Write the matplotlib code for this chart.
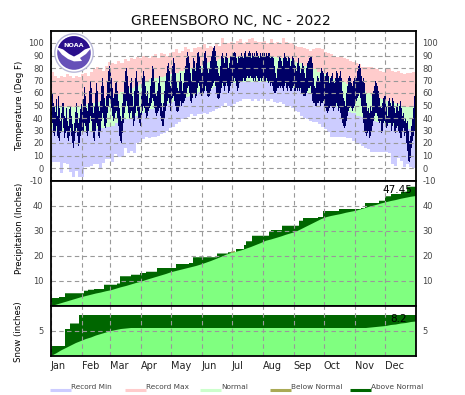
import numpy as np
import matplotlib
matplotlib.use("Agg")
import matplotlib.pyplot as plt
from matplotlib.patches import Circle, Polygon

plt.rcParams['axes.unicode_minus'] = False

W, H = 465, 395

months = ['Jan', 'Feb', 'Mar', 'Apr', 'May', 'Jun', 'Jul', 'Aug', 'Sep', 'Oct', 'Nov', 'Dec']
month_start = [0, 31, 59, 90, 120, 151, 181, 212, 243, 273, 304, 334]

# daily high / low, one line per month
temp_hi = [62,60,52,50,45,55,42,58,48,38,44,52,52,42,40,48,38,34,47,50,42,35,30,36,45,52,44,36,40,47,51,
           45,55,65,58,48,46,52,62,70,64,52,44,50,60,68,62,50,46,54,66,72,66,56,50,58,70,78,82,
           78,72,64,56,60,68,70,62,54,48,42,38,52,60,70,78,80,74,66,60,68,72,58,50,62,72,78,70,62,50,44,
           60,72,78,74,66,58,62,52,56,66,72,82,80,70,60,58,62,68,74,66,52,46,52,62,70,76,82,84,78,66,
           72,82,88,84,76,70,64,62,70,76,70,62,68,76,82,88,93,90,84,76,70,80,88,86,78,84,92,93,90,82,76,
           78,86,92,94,88,80,76,80,86,90,94,96,98,94,86,82,76,74,82,90,92,88,84,90,92,88,80,84,90,90,
           90,92,93,92,88,84,90,88,90,92,90,88,92,94,90,90,92,94,92,88,92,90,92,90,94,92,90,88,92,90,92,
           92,92,90,92,90,92,92,88,90,90,88,82,76,72,80,86,90,88,86,82,88,92,90,88,86,90,88,82,86,90,88,
           86,82,78,84,88,82,76,80,84,82,76,72,80,84,86,88,90,90,84,72,66,64,70,74,72,70,76,80,78,76,
           72,74,76,77,74,68,72,74,76,70,68,72,78,76,72,74,78,72,62,56,54,50,60,66,72,74,72,68,66,70,72,
           74,72,78,82,83,80,74,70,72,68,60,52,46,48,44,50,46,60,62,66,70,68,66,62,56,50,48,52,56,58,
           58,50,42,54,56,52,50,56,54,48,44,50,52,46,50,54,48,42,44,38,40,36,38,30,22,26,34,40,48,58,67]
temp_lo = [40,36,28,26,30,34,26,24,22,28,30,40,32,24,28,30,24,22,26,32,26,20,16,22,28,32,26,18,20,26,30,
           28,30,36,34,28,26,30,36,42,38,30,24,22,30,36,34,26,24,30,38,44,40,34,32,36,44,50,56,
           52,48,42,38,40,44,46,40,34,26,22,20,28,36,44,50,54,50,44,40,44,46,40,34,38,44,50,46,40,36,34,
           40,46,50,48,44,40,42,46,48,50,52,56,54,48,44,42,44,46,48,42,38,34,34,40,46,50,54,56,52,46,
           52,56,58,54,50,46,45,46,50,54,50,52,52,54,56,60,64,66,60,54,52,56,60,60,56,58,64,68,66,60,58,
           58,60,62,66,62,58,57,58,62,64,66,68,70,66,60,56,55,56,60,64,68,66,62,66,68,66,60,62,66,68,
           68,70,72,70,66,62,64,68,70,70,70,72,70,70,72,74,72,72,74,72,72,70,72,70,74,72,70,70,72,70,72,
           72,70,70,72,70,68,70,66,68,66,62,60,60,62,64,64,66,64,66,64,62,66,68,64,62,66,64,62,62,64,66,
           62,62,64,62,64,62,64,60,60,58,58,58,60,62,64,64,66,60,54,52,52,50,50,52,52,54,50,52,52,54,
           50,48,46,44,46,48,50,50,48,46,48,50,52,50,46,48,44,40,36,34,32,34,38,42,46,48,50,48,46,48,50,
           52,54,56,58,60,56,50,44,36,30,28,26,28,30,24,26,30,34,38,42,44,44,42,38,36,38,28,30,36,38,
           34,32,34,36,36,36,30,34,36,30,28,32,34,30,28,24,24,30,32,26,28,20,14,6,5,8,16,22,26,30,40]

# records, roughly every 3 days
rec_hi = [77,74,72,74,73,75,74,72,74,73,
          75,76,74,77,79,81,79,78,82,
          85,84,83,86,84,87,86,88,87,89,
          88,90,89,88,90,91,88,92,91,90,
          92,93,95,92,94,97,95,93,96,97,
          97,99,96,98,97,100,98,104,99,100,
          101,100,102,103,100,101,103,104,102,101,
          101,102,100,103,100,101,99,104,101,100,
          100,98,97,97,96,95,94,95,96,96,
          95,93,92,91,90,89,89,88,87,86,
          85,84,83,81,81,81,81,80,79,78,
          77,79,79,78,77,78,76,75,76,76,77]
rec_lo = [5,5,5,-4,4,3,-3,-7,-2,-7,
          -7,1,1,2,3,3,0,4,7,
          7,5,11,9,9,16,12,14,12,20,
          21,23,25,24,25,25,26,27,28,30,
          32,33,35,37,39,40,41,43,42,43,
          43,44,43,45,46,47,48,50,52,50,
          49,51,53,54,55,55,55,54,55,54,
          55,55,54,55,53,52,53,51,50,50,
          48,46,45,42,40,39,38,37,37,35,
          33,31,29,25,25,25,25,25,24,24,
          22,20,19,18,16,15,13,13,13,13,
          13,13,12,3,2,8,6,1,3,1,0]

# normals, roughly every 5 days
norm_hi = [50,50,49,49,49,49, 50,51,52,53,54,55, 57,59,61,62,64,66, 67,69,71,72,73,74,
           75,76,78,79,80,81,82, 84,85,86,87,88, 88,89,89,89,90,90,90, 89,89,89,88,88,87,
           85,84,82,81,79,77, 75,73,71,70,69,67, 66,64,62,60,58,56, 55,54,52,51,50,49,49]
norm_lo = [31,30,30,30,29,29, 29,30,30,31,32,33, 34,36,37,39,40,42, 44,45,47,48,50,51,
           53,54,55,57,58,59,61, 62,63,65,66,67, 68,68,69,69,69,69,69, 69,68,68,67,67,66,
           64,63,61,60,58,56, 53,52,50,48,47,45, 44,42,41,40,38,37, 36,35,34,33,32,31,30]

precip_norm = [0,0.5,1.1,1.7,2.3,2.9, 3.5,4.0,4.5,5.0,5.4,5.9, 6.3,6.9,7.5,8.0,8.6,9.2,
               9.7,10.4,11.0,11.6,12.2,12.8, 13.5,14.0,14.5,15.0,15.5,16.0,16.6,
               17.3,18.0,18.8,19.6,20.5, 21.2,21.7,22.2,22.9,23.6,24.4,25.2,
               26.1,26.6,27.2,27.8,28.5,29.1, 29.7,30.7,31.7,32.7,33.7,34.7,
               35.5,36.0,36.4,36.8,37.3,37.7, 38.1,38.7,39.3,39.9,40.4,41.0,
               41.5,42.0,42.4,42.9,43.3,43.7,44.0]
precip_days = [0,8,14,33,37,43,53,66,69,80,89,95,106,125,138,142,166,177,185,193,195,201,
               218,220,231,248,252,267,272,288,310,314,328,334,340,350,356]
precip_vals = [3.2,3.6,5.1,6.1,6.5,6.8,8.5,9.0,11.9,12.5,13.2,13.7,15.2,16.8,17.2,19.5,21.0,21.5,
               22.8,24.4,25.9,28.1,29.7,30.4,32.1,34.1,35.2,35.6,38.0,38.8,39.2,41.2,42.1,43.9,
               44.8,45.7,47.7]
# small below normal patch at the start of July
below_days = [180, 184]
below_lo = [21.2, 21.6]
below_hi = [21.8, 22.1]

snow_norm = [0,0.5,1.1,1.6,2.1,2.6, 3.0,3.4,3.7,4.1,4.4,4.7, 5.0,5.2,5.4,5.5,5.6,5.6] + [5.6] * 45 + \
            [5.6,5.7,5.8,5.9,6.0,6.2,6.3,6.5,6.6,6.8,6.9]
snow_days = [0,14,19,28]
snow_vals = [2.0,5.4,6.5,8.2]

legend_names = ['Record Min', 'Record Max', 'Normal', 'Below Normal', 'Above Normal']
legend_colors = ['#ccccff', '#ffcccc', '#ccffcc', '#aaaa55', '#006600']
legend_x = [50, 125, 200, 270, 350]


def edges(vals):
    return np.linspace(0, 365, len(vals) + 1)


def panel(top, bottom):
    return fig.add_axes([50.5 / W, 1 - bottom / H, 365 / W, (bottom - top) / H])


def style(ax, yticks):
    ax.set_xlim(0, 365)
    ax.set_xticks(month_start)
    ax.set_yticks(yticks)
    ax.tick_params(length=0, labelsize=6, labelcolor='#444444', pad=5, labelleft=True, labelright=True,
                   labelbottom=False)
    ax.set_axisbelow(False)
    ax.grid(True, color='#999999', linestyle=(0, (4, 3)), linewidth=0.8)
    for s in ax.spines.values():
        s.set_linewidth(1.3)
        s.set_zorder(5)


def cumulative(ax, norm, days, vals):
    norm_x = np.linspace(0, 365, len(norm))
    all_days = np.arange(366)
    act = np.array(vals)[np.searchsorted(days, all_days, side='right') - 1]
    ax.fill_between(all_days, 0, act, step='post', color='#006600', lw=0, antialiased=False)
    ax.fill_between(norm_x, 0, norm, color='#80ff80', lw=0, antialiased=False)


fig = plt.figure(figsize=(W / 100, H / 100), dpi=100)

# temperature
ax1 = panel(30.5, 180.5)
ax1.stairs(rec_hi, edges(rec_hi), baseline=-10, fill=True, color='#ffcccc', lw=0, antialiased=False)
ax1.stairs(norm_lo, edges(norm_lo), baseline=-10, fill=True, color='#ccccff', lw=0, antialiased=False)
ax1.stairs(rec_lo, edges(rec_lo), baseline=-10, fill=True, color='white', lw=0, antialiased=False)
ax1.stairs(norm_hi, edges(norm_hi), baseline=norm_lo, fill=True, color='#ccffcc', lw=0, antialiased=False)
hi = np.array(temp_hi)
lo = np.array(temp_lo)
ax1.bar(np.arange(len(hi)) + 0.5, hi - lo, bottom=lo, width=1.0, color='#000066', lw=0, antialiased=False)
ax1.set_ylim(-10, 110)
style(ax1, list(range(-10, 101, 10)))
ax1.set_ylabel('Temperature (Deg F)', fontsize=6.2)
ax1.yaxis.set_label_coords(-27 / 365, 0.5)

# precipitation
ax2 = panel(180.5, 305.5)
cumulative(ax2, precip_norm, precip_days, precip_vals)
ax2.fill_between(below_days, below_lo, below_hi, color='#aaaa55', lw=0)
ax2.set_ylim(0, 50)
style(ax2, [10, 20, 30, 40])
ax2.set_ylabel('Precipitation (Inches)', fontsize=6.2)
ax2.yaxis.set_label_coords(-27 / 365, 0.62)
ax2.text(362, 44.2, '47.45', ha='right', va='bottom', fontsize=7.5, color='black')

# snow
ax3 = panel(305.5, 355.5)
cumulative(ax3, snow_norm, snow_days, snow_vals)
ax3.set_ylim(0, 10)
style(ax3, [5])
ax3.set_ylabel('Snow (inches)', fontsize=6.2)
ax3.yaxis.set_label_coords(-27 / 365, 0.47)
ax3.text(356, 6.3, '8.2', ha='right', va='bottom', fontsize=7.5, color='black')
ax3.set_xticklabels(months, ha='left')
ax3.tick_params(axis='x', labelbottom=True, labelsize=7, labelcolor='#222222', pad=4)

fig.text(231 / W, 1 - 21 / H, 'GREENSBORO NC, NC - 2022', ha='center', va='center', fontsize=10, color='#111111')

# logo
logo = fig.add_axes([54 / W, 1 - 73 / H, 40 / W, 40 / H], zorder=6)
logo.set_xlim(-1, 1)
logo.set_ylim(-1, 1)
logo.axis('off')
logo.add_patch(Circle((0, 0), 0.96, fc='white', ec='#b8b8d8', lw=1))
low = Circle((0, 0), 0.84, fc='#6650b8', lw=0)
logo.add_patch(low)
top = Polygon([(-1, 1), (1, 1), (1, 0.3), (0.55, 0.18), (0.25, -0.05), (0, -0.18), (-0.25, -0.05), (-0.55, 0.18), (-1, 0.3)],
              fc='#2a0f8c', lw=0)
logo.add_patch(top)
top.set_clip_path(low)
swoosh = Polygon([(-0.9, 0.3), (-0.55, 0.18), (-0.25, -0.05), (0, -0.18), (0.25, -0.05), (0.55, 0.18), (0.9, 0.3),
                  (0.6, -0.05), (0.3, -0.25), (0.4, -0.4), (0.0, -0.42), (-0.3, -0.3), (-0.6, -0.08)], fc='white', lw=0)
logo.add_patch(swoosh)
logo.text(0, 0.38, 'NOAA', color='white', fontsize=4.6, fontweight='bold', ha='center', va='center')

# legend
for name, col, x in zip(legend_names, legend_colors, legend_x):
    fig.add_artist(plt.Line2D([x / W, (x + 21) / W], [1 - 389.5 / H, 1 - 389.5 / H], color=col, lw=2.2,
                              solid_capstyle='butt'))
    fig.text((x + 21) / W, 1 - 387 / H, name, fontsize=5.3, color='#444444', ha='left', va='center')

fig.savefig('out.png', dpi=100)
